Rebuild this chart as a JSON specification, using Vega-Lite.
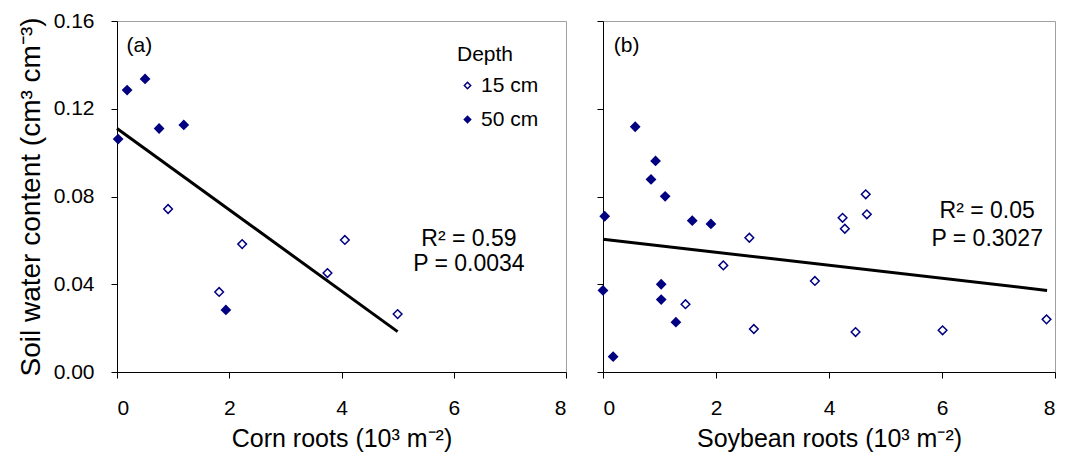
{
  "$schema": "https://vega.github.io/schema/vega-lite/v6.json",
  "background": "white",
  "padding": {"left": 16, "top": 9, "right": 5, "bottom": 5},
  "bounds": "flush",
  "spacing": 37,
  "config": {
    "font": "Liberation Sans",
    "view": {"stroke": "#a0a0a0", "strokeWidth": 1},
    "axis": {
      "grid": false,
      "domainColor": "black",
      "tickColor": "black",
      "tickSize": 6,
      "labelColor": "black",
      "titleColor": "black",
      "labelFont": "Liberation Sans",
      "titleFont": "Liberation Sans",
      "labelFontSize": 21,
      "titleFontSize": 25,
      "titleFontWeight": "normal"
    },
    "axisX": {"labelPadding": 19, "titlePadding": 8},
    "axisY": {"labelPadding": 17}
  },
  "datasets": {
    "pts": [
      {"panel": "a", "roots": 0.91, "swc": 0.0743, "depth": "15 cm"},
      {"panel": "a", "roots": 1.82, "swc": 0.0365, "depth": "15 cm"},
      {"panel": "a", "roots": 2.23, "swc": 0.0583, "depth": "15 cm"},
      {"panel": "a", "roots": 3.75, "swc": 0.0451, "depth": "15 cm"},
      {"panel": "a", "roots": 4.06, "swc": 0.0602, "depth": "15 cm"},
      {"panel": "a", "roots": 5.0, "swc": 0.0264, "depth": "15 cm"},
      {"panel": "a", "roots": 0.02, "swc": 0.1062, "depth": "50 cm"},
      {"panel": "a", "roots": 0.18, "swc": 0.1285, "depth": "50 cm"},
      {"panel": "a", "roots": 0.5, "swc": 0.1336, "depth": "50 cm"},
      {"panel": "a", "roots": 0.75, "swc": 0.111, "depth": "50 cm"},
      {"panel": "a", "roots": 1.19, "swc": 0.1126, "depth": "50 cm"},
      {"panel": "a", "roots": 1.94, "swc": 0.0283, "depth": "50 cm"},
      {"panel": "b", "roots": 0.57, "swc": 0.1118, "depth": "50 cm"},
      {"panel": "b", "roots": 0.93, "swc": 0.0962, "depth": "50 cm"},
      {"panel": "b", "roots": 0.85, "swc": 0.0878, "depth": "50 cm"},
      {"panel": "b", "roots": 1.1, "swc": 0.0801, "depth": "50 cm"},
      {"panel": "b", "roots": 0.03, "swc": 0.071, "depth": "50 cm"},
      {"panel": "b", "roots": 1.58, "swc": 0.069, "depth": "50 cm"},
      {"panel": "b", "roots": 1.91, "swc": 0.0675, "depth": "50 cm"},
      {"panel": "b", "roots": 0.0, "swc": 0.0372, "depth": "50 cm"},
      {"panel": "b", "roots": 1.03, "swc": 0.04, "depth": "50 cm"},
      {"panel": "b", "roots": 1.03, "swc": 0.033, "depth": "50 cm"},
      {"panel": "b", "roots": 1.29, "swc": 0.0227, "depth": "50 cm"},
      {"panel": "b", "roots": 0.18, "swc": 0.007, "depth": "50 cm"},
      {"panel": "b", "roots": 2.59, "swc": 0.0612, "depth": "15 cm"},
      {"panel": "b", "roots": 2.13, "swc": 0.0486, "depth": "15 cm"},
      {"panel": "b", "roots": 1.46, "swc": 0.0309, "depth": "15 cm"},
      {"panel": "b", "roots": 2.67, "swc": 0.0196, "depth": "15 cm"},
      {"panel": "b", "roots": 3.75, "swc": 0.0415, "depth": "15 cm"},
      {"panel": "b", "roots": 4.65, "swc": 0.081, "depth": "15 cm"},
      {"panel": "b", "roots": 4.24, "swc": 0.0703, "depth": "15 cm"},
      {"panel": "b", "roots": 4.28, "swc": 0.0653, "depth": "15 cm"},
      {"panel": "b", "roots": 4.67, "swc": 0.0719, "depth": "15 cm"},
      {"panel": "b", "roots": 4.47, "swc": 0.0182, "depth": "15 cm"},
      {"panel": "b", "roots": 6.01, "swc": 0.019, "depth": "15 cm"},
      {"panel": "b", "roots": 7.85, "swc": 0.024, "depth": "15 cm"}
    ],
    "fits": [
      {"panel": "a", "roots": 0, "swc": 0.111},
      {"panel": "a", "roots": 5.0, "swc": 0.0184},
      {"panel": "b", "roots": 0, "swc": 0.0605},
      {"panel": "b", "roots": 7.86, "swc": 0.0372}
    ],
    "notes": [
      {"panel": "a", "roots": 6.27, "swc": 0.0606, "label": "R² = 0.59"},
      {"panel": "a", "roots": 6.27, "swc": 0.0492, "label": "P = 0.0034"},
      {"panel": "b", "roots": 6.8, "swc": 0.0734, "label": "R² = 0.05"},
      {"panel": "b", "roots": 6.8, "swc": 0.0606, "label": "P = 0.3027"}
    ],
    "tags": [
      {"panel": "a", "roots": 0.17, "swc": 0.1486, "label": "(a)"},
      {"panel": "b", "roots": 0.19, "swc": 0.1486, "label": "(b)"}
    ]
  },
  "resolve": {"scale": {"fill": "independent"}, "legend": {"fill": "independent"}},
  "hconcat": [
    {
      "width": 449,
      "height": 351,
      "layer": [
        {
          "data": {"name": "fits"},
          "transform": [{"filter": "datum.panel === 'a'"}],
          "mark": {"type": "line", "color": "black", "strokeWidth": 3},
          "encoding": {
            "x": {"field": "roots", "type": "quantitative", "scale": {"domain": [0, 8]}, "axis": {"values": [0, 2, 4, 6, 8], "format": "d", "title": "Corn roots (10³ m⁻²)"}},
            "y": {"field": "swc", "type": "quantitative", "scale": {"domain": [0, 0.16]}, "axis": {"values": [0, 0.04, 0.08, 0.12, 0.16], "format": ".2f", "title": "Soil water content (cm³ cm⁻³)", "titleFontSize": 28, "titlePadding": 8}}
          }
        },
        {
          "data": {"name": "pts"},
          "transform": [{"filter": "datum.panel === 'a'"}],
          "mark": {"type": "point", "shape": "diamond", "filled": true, "stroke": "#000080", "strokeWidth": 1.5, "opacity": 1, "size": 75},
          "encoding": {
            "x": {"field": "roots", "type": "quantitative"},
            "y": {"field": "swc", "type": "quantitative"},
            "fill": {
              "field": "depth", "type": "nominal",
              "scale": {"domain": ["15 cm", "50 cm"], "range": ["white", "#000080"]},
              "legend": {
                "title": "Depth", "orient": "none", "legendX": 340, "legendY": 23,
                "titleFontSize": 21, "titleFontWeight": "normal", "titleColor": "black", "titlePadding": 10,
                "labelFontSize": 21, "labelColor": "black", "rowPadding": 12,
                "symbolType": "diamond", "symbolSize": 40, "symbolStrokeColor": "#000080", "symbolStrokeWidth": 1.5,
                "labelOffset": 3, "titleAnchor": "start"
              }
            }
          }
        },
        {
          "data": {"name": "notes"},
          "transform": [{"filter": "datum.panel === 'a'"}],
          "mark": {"type": "text", "fontSize": 23, "align": "center", "baseline": "middle", "color": "black"},
          "encoding": {
            "x": {"field": "roots", "type": "quantitative"},
            "y": {"field": "swc", "type": "quantitative"},
            "text": {"field": "label"}
          }
        },
        {
          "data": {"name": "tags"},
          "transform": [{"filter": "datum.panel === 'a'"}],
          "mark": {"type": "text", "fontSize": 21, "align": "left", "baseline": "middle", "color": "black"},
          "encoding": {
            "x": {"field": "roots", "type": "quantitative"},
            "y": {"field": "swc", "type": "quantitative"},
            "text": {"field": "label"}
          }
        }
      ]
    },
    {
      "width": 452,
      "height": 351,
      "layer": [
        {
          "data": {"name": "fits"},
          "transform": [{"filter": "datum.panel === 'b'"}],
          "mark": {"type": "line", "color": "black", "strokeWidth": 3},
          "encoding": {
            "x": {"field": "roots", "type": "quantitative", "scale": {"domain": [0, 8]}, "axis": {"values": [0, 2, 4, 6, 8], "format": "d", "title": "Soybean roots (10³ m⁻²)"}},
            "y": {"field": "swc", "type": "quantitative", "scale": {"domain": [0, 0.16]}, "axis": {"values": [0, 0.04, 0.08, 0.12, 0.16], "labels": false, "title": null}}
          }
        },
        {
          "data": {"name": "pts"},
          "transform": [{"filter": "datum.panel === 'b'"}],
          "mark": {"type": "point", "shape": "diamond", "filled": true, "stroke": "#000080", "strokeWidth": 1.5, "opacity": 1, "size": 75},
          "encoding": {
            "x": {"field": "roots", "type": "quantitative"},
            "y": {"field": "swc", "type": "quantitative"},
            "fill": {"field": "depth", "type": "nominal", "scale": {"domain": ["15 cm", "50 cm"], "range": ["white", "#000080"]}, "legend": null}
          }
        },
        {
          "data": {"name": "notes"},
          "transform": [{"filter": "datum.panel === 'b'"}],
          "mark": {"type": "text", "fontSize": 23, "align": "center", "baseline": "middle", "color": "black"},
          "encoding": {
            "x": {"field": "roots", "type": "quantitative"},
            "y": {"field": "swc", "type": "quantitative"},
            "text": {"field": "label"}
          }
        },
        {
          "data": {"name": "tags"},
          "transform": [{"filter": "datum.panel === 'b'"}],
          "mark": {"type": "text", "fontSize": 21, "align": "left", "baseline": "middle", "color": "black"},
          "encoding": {
            "x": {"field": "roots", "type": "quantitative"},
            "y": {"field": "swc", "type": "quantitative"},
            "text": {"field": "label"}
          }
        }
      ]
    }
  ]
}
